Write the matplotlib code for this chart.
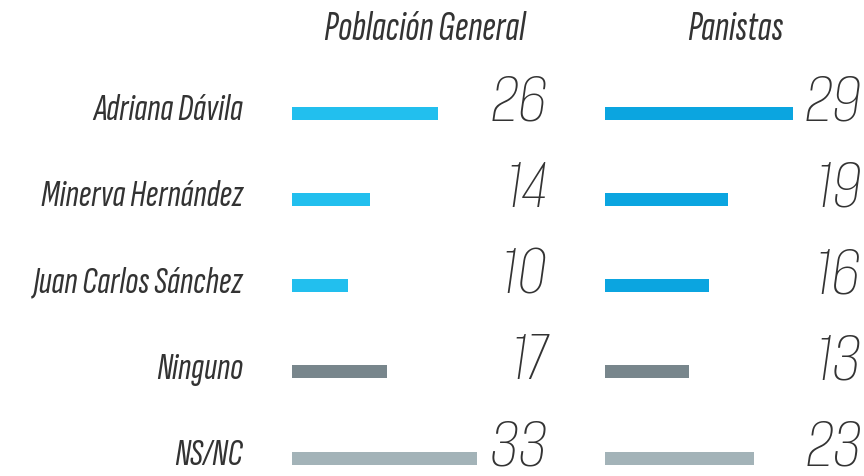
import matplotlib
matplotlib.use("Agg")
import matplotlib.pyplot as plt

# ------------------------------------------------------------
# DATA
# ------------------------------------------------------------
candidates = ["Adriana Dávila", "Minerva Hernández", "Juan Carlos Sánchez", "Ninguno", "NS/NC"]
poblacion_general = [26, 14, 10, 17, 33]
panistas = [29, 19, 16, 13, 23]
panel_titles = ["Población General", "Panistas"]

BLUE_LEFT = "#22bfee"
BLUE_RIGHT = "#0ba5e0"
GRAY_DARK = "#78868c"
GRAY_LIGHT = "#a3b3b8"
TEXT = "#333333"
LABEL_FONT = ["Sofia Sans Extra Condensed", "Fira Sans Extra Condensed", "DejaVu Sans"]
NUM_FONT = ["Alumni Sans", "Fira Sans Extra Condensed", "DejaVu Sans"]

W, H = 864, 476
fig = plt.figure(figsize=(W / 100, H / 100), dpi=100)
fig.patch.set_facecolor("white")

row_px = 86.25
ax_top, ax_bot = 70, 476
ylim = (-0.5 + (ax_bot - ax_top) / row_px, -0.5)


def panel(x0, x1, px_per_unit, values, blue, title, title_x):
    ax = fig.add_axes([x0 / W, 1 - ax_bot / H, (x1 - x0) / W, (ax_bot - ax_top) / H])
    ax.set_xlim(0, (x1 - x0) / px_per_unit)
    ax.set_ylim(*ylim)
    ax.axis("off")
    colors = [blue, blue, blue, GRAY_DARK, GRAY_LIGHT]
    ax.barh(range(len(values)), values, height=0.15, color=colors)
    for i, v in enumerate(values):
        ax.text(1.0, i - 0.14, str(v), transform=ax.get_yaxis_transform(),
                ha="right", va="center", fontsize=54, style="italic",
                color=TEXT, family=NUM_FONT)
    fig.text(title_x / W, 1 - 30 / H, title, ha="center", va="center",
             fontsize=30, style="italic", color=TEXT, family=LABEL_FONT)
    return ax


ax_l = panel(292, 548, 5.6, poblacion_general, BLUE_LEFT, panel_titles[0], 425)
ax_r = panel(605, 862, 6.47, panistas, BLUE_RIGHT, panel_titles[1], 735)

for i, name in enumerate(candidates):
    y_disp = ax_l.transData.transform((0, i - 0.03))[1]
    fig.text(243 / W, y_disp / H, name, ha="right", va="center",
             fontsize=28, style="italic", color=TEXT, family=LABEL_FONT)

fig.savefig("out.png", dpi=100, facecolor="white")
